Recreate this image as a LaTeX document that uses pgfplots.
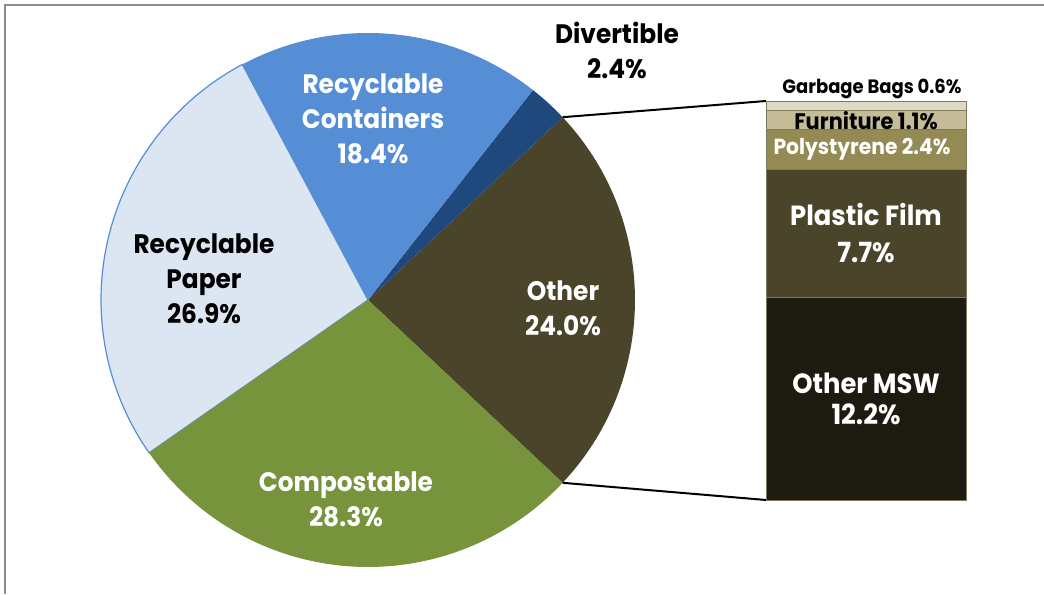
\documentclass[border=0pt]{standalone}
\usepackage{pgfplots}
\pgfplotsset{compat=1.18}
\usepackage{pgfplotstable}
\usepackage{fontspec}
\setmainfont{Poppins}[BoldFeatures={FakeStretch=0.93}]
\definecolor{cOther}{HTML}{4A452A}
\definecolor{cDiv}{HTML}{1F497D}
\definecolor{cCont}{HTML}{558ED5}
\definecolor{cPaper}{HTML}{DCE6F2}
\definecolor{cPaperEdge}{HTML}{558ED5}
\definecolor{cComp}{HTML}{77933C}
\definecolor{cMSW}{HTML}{1D1B10}
\definecolor{cFilm}{HTML}{4A452A}
\definecolor{cPoly}{HTML}{948A54}
\definecolor{cFurn}{HTML}{C4BD97}
\definecolor{cBags}{HTML}{DDD9C3}
\definecolor{cBarEdge}{HTML}{7F7A5C}

% main pie: percentages, counter-clockwise starting with the exploded "Other" slice
\pgfplotstableread[col sep=comma]{
name,value,color,edge
Other,24.0,cOther,none
Divertible,2.4,cDiv,none
Containers,18.4,cCont,none
Paper,26.9,cPaper,cPaperEdge
Compostable,28.3,cComp,none
}\pietable

\newcommand\pielab{\fontsize{7.6pt}{9.96pt}\selectfont\bfseries}

\begin{document}
\begin{tikzpicture}
\begin{axis}[at={(0,0)}, anchor=south west, scale only axis,
  width=104.4mm, height=59.4mm, xmin=0, xmax=1044, ymin=0, ymax=594,
  hide axis, clip=false]
  \pgfplotstablegetelem{0}{value}\of\pietable
  \pgfmathsetmacro\angA{-1.8*\pgfplotsretval}
  \pgfplotsforeachungrouped \i in {0,...,4}{%
    \pgfplotstablegetelem{\i}{value}\of\pietable \let\v\pgfplotsretval
    \pgfplotstablegetelem{\i}{color}\of\pietable \let\c\pgfplotsretval
    \pgfplotstablegetelem{\i}{edge}\of\pietable \let\e\pgfplotsretval
    \pgfmathsetmacro\angB{\angA+3.6*\v}%
    \edef\temp{\noexpand\filldraw[fill=\c, draw=\e, line width=0.12mm]
      (axis cs:368,294) -- ++(\angA:26.7mm)
      arc[start angle=\angA, end angle=\angB, radius=26.7mm] -- cycle;}%
    \temp
    \global\let\angA\angB
  }
  % connector lines to the bar
  \addplot[black, line width=0.2mm] coordinates {(562.6,476.8) (766,493)};
  \addplot[black, line width=0.2mm] coordinates {(562.6,111.2) (766,94)};
  % labels
  \node[align=center, text=black, font=\pielab] at (axis cs:617,544) {Divertible\\2.4\%};
  \node[align=center, text=white, font=\pielab] at (axis cs:373,475) {Recyclable\\Containers\\18.4\%};
  \node[align=center, text=black, font=\pielab] at (axis cs:204,315) {Recyclable\\Paper\\26.9\%};
  \node[align=center, text=white, font=\pielab] at (axis cs:563,285.5) {Other\\24.0\%};
  \node[align=center, text=white, font=\pielab] at (axis cs:346,95) {Compostable\\28.3\%};
\end{axis}
\begin{axis}[at={(76.6mm,9.4mm)}, anchor=south west, scale only axis,
  width=20mm, height=39.9mm, xmin=-0.5, xmax=0.5, ymin=0, ymax=24,
  hide axis, clip=false, ybar stacked, bar width=20mm,
  every axis plot/.append style={draw=cBarEdge, line width=0.1mm}]
  \addplot[fill=cMSW] coordinates {(0,12.2)};
  \addplot[fill=cFilm] coordinates {(0,7.7)};
  \addplot[fill=cPoly] coordinates {(0,2.4)};
  \addplot[fill=cFurn] coordinates {(0,1.1)};
  \addplot[fill=cBags] coordinates {(0,0.6)};
  \coordinate (lMSW) at (axis cs:0,6.1);
  \coordinate (lFilm) at (axis cs:0,16.05);
  \coordinate (lPoly) at (axis cs:-0.02,21.1);
  \coordinate (lFurn) at (axis cs:0,22.85);
  \coordinate (lBags) at (axis cs:0.03,24.7);
\end{axis}
\node[align=center, text=white, font={\fontsize{7.9pt}{8.8pt}\selectfont\bfseries}] at (lMSW) {Other MSW\\12.2\%};
\node[align=center, text=white, font={\fontsize{7.9pt}{10.5pt}\selectfont\bfseries}] at (lFilm) {Plastic Film\\7.7\%};
\node[text=white, font={\fontsize{6.2pt}{6.2pt}\selectfont\bfseries}] at (lPoly) {Polystyrene 2.4\%};
\node[text=black, font={\fontsize{6.4pt}{6.4pt}\selectfont\bfseries}] at (lFurn) {Furniture 1.1\%};
\node[text=black, font={\fontsize{5.5pt}{5.5pt}\selectfont\bfseries}] at (lBags) {Garbage Bags 0.6\%};
\draw[color=gray!90, line width=0.2mm] (0.5mm,0) -- (0.5mm,58.9mm) -- (105mm,58.9mm);
\pgfresetboundingbox
\useasboundingbox (0,0) rectangle (104.4mm,59.4mm);
\end{tikzpicture}
\end{document}
